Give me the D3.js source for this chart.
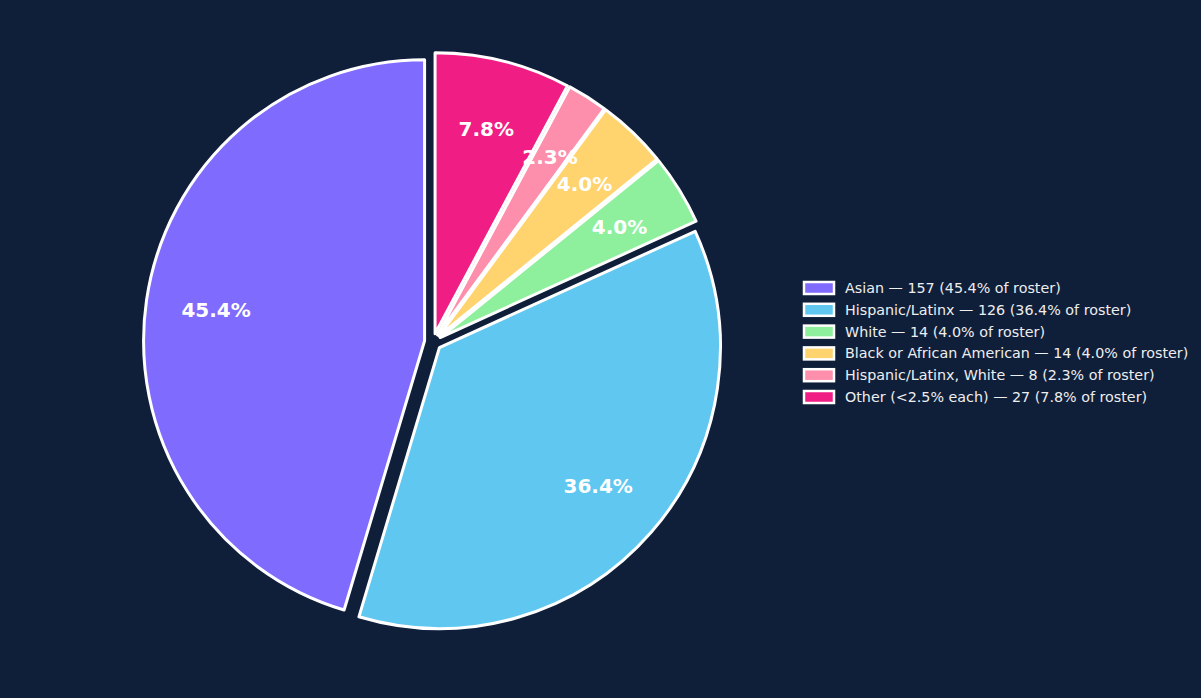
<!DOCTYPE html>
<html lang="en">
<head>
    <meta charset="UTF-8">
    <title>Roster by race / ethnicity</title>
    <script src="https://d3js.org/d3.v7.min.js"></script>
    <style>
        body, html {
            margin: 0;
            padding: 0;
            overflow: hidden;
            background-color: #0f1f3a;
        }
        svg {
            display: block;
        }
        .slice {
            stroke: #ffffff;
            stroke-width: 3px;
            stroke-linejoin: round;
        }
        .pct-label {
            font-family: "DejaVu Sans", sans-serif;
            font-weight: bold;
            font-size: 20px;
            fill: #ffffff;
            text-anchor: middle;
            dominant-baseline: central;
        }
        .legend-text {
            font-family: "DejaVu Sans", sans-serif;
            font-size: 14.3px;
            fill: #eeeeee;
            dominant-baseline: central;
        }
    </style>
</head>
<body>
    <svg width="1201" height="698" id="chart"></svg>

    <script>
        const categories = [
            "Asian",
            "Hispanic/Latinx",
            "White",
            "Black or African American",
            "Hispanic/Latinx, White",
            "Other (<2.5% each)"
        ];
        const counts = [157, 126, 14, 14, 8, 27];
        const colors = ["#7f6bfd", "#5fc7f0", "#8ef09d", "#ffd36d", "#fd8fac", "#f01d84"];

        const svg = d3.select("#chart");
        const width = +svg.attr("width");
        const height = +svg.attr("height");

        svg.append("rect")
            .attr("width", width)
            .attr("height", height)
            .attr("fill", "#0f1f3a");

        const total = d3.sum(counts);
        const pctText = v => (v / total * 100).toFixed(1) + "%";

        const cx = 433, cy = 342;
        const radius = 281;
        const explode = 8.5;     // px each slice is pushed out
        const pctDistance = 0.75;

        const data = categories.map((c, i) => ({ name: c, value: counts[i], color: colors[i] }));

        // counter-clockwise from 12 o'clock, like matplotlib startangle=90
        const pie = d3.pie()
            .sort(null)
            .value(d => d.value)
            .startAngle(0)
            .endAngle(-2 * Math.PI);

        const arcs = pie(data);
        const arc = d3.arc().innerRadius(0).outerRadius(radius);

        function offset(d, dist) {
            const a = (d.startAngle + d.endAngle) / 2;
            return [Math.sin(a) * dist, -Math.cos(a) * dist];
        }

        const pieG = svg.append("g")
            .attr("transform", `translate(${cx}, ${cy})`);

        pieG.selectAll("path")
            .data(arcs)
            .enter()
            .append("path")
            .attr("class", "slice")
            .attr("transform", d => {
                const [dx, dy] = offset(d, explode);
                return `translate(${dx}, ${dy})`;
            })
            .attr("d", arc)
            .attr("fill", d => d.data.color);

        pieG.selectAll(".pct-label")
            .data(arcs)
            .enter()
            .append("text")
            .attr("class", "pct-label")
            .attr("x", d => offset(d, explode + radius * pctDistance)[0])
            .attr("y", d => offset(d, explode + radius * pctDistance)[1])
            .text(d => pctText(d.data.value));

        // legend
        const legendX = 804, legendY = 288, rowH = 21.8;
        const legend = svg.append("g")
            .attr("transform", `translate(${legendX}, ${legendY})`);

        const rows = legend.selectAll("g")
            .data(data)
            .enter()
            .append("g")
            .attr("transform", (d, i) => `translate(0, ${i * rowH})`);

        rows.append("rect")
            .attr("x", 0)
            .attr("y", -6)
            .attr("width", 30)
            .attr("height", 12)
            .attr("fill", d => d.color)
            .attr("stroke", "#ffffff")
            .attr("stroke-width", 2.5);

        rows.append("text")
            .attr("class", "legend-text")
            .attr("x", 41)
            .attr("y", 0)
            .text(d => `${d.name} — ${d.value} (${pctText(d.value)} of roster)`);
    </script>
</body>
</html>
